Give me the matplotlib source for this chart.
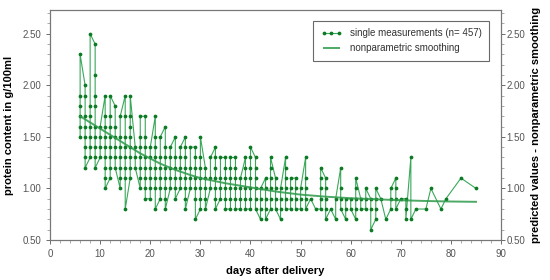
import matplotlib
matplotlib.use("Agg")
import matplotlib.pyplot as plt
from matplotlib.ticker import MultipleLocator

plt.rcParams['font.family'] = ['Liberation Sans', 'DejaVu Sans']

# measured protein values per day after delivery (g/100ml)
meas_days = [6, 7, 8, 9, 10, 11, 12, 13, 14, 15, 16, 17, 18, 19, 20, 21, 22, 23, 24, 25,
             26, 27, 28, 29, 30, 31, 32, 33, 34, 35, 36, 37, 38, 39, 40, 41, 42, 43, 44, 45,
             46, 47, 48, 49, 50, 51, 52, 53, 54, 55, 56, 57, 58, 59, 60, 61, 62, 63, 64, 65,
             66, 67, 68, 69, 70, 71, 72, 73, 75, 76, 78, 79, 82, 85]
meas_values = [
    [1.5, 1.6, 1.7, 1.8, 1.9, 2.3],
    [2.0, 1.9, 1.7, 1.6, 1.5, 1.4, 1.3, 1.2],
    [1.3, 1.4, 1.5, 1.6, 1.7, 1.8, 2.5],
    [2.4, 2.1, 1.9, 1.8, 1.6, 1.5, 1.4, 1.3, 1.2],
    [1.3, 1.4, 1.5, 1.6],
    [1.9, 1.7, 1.6, 1.5, 1.4, 1.3, 1.2, 1.1, 1.0],
    [1.1, 1.2, 1.3, 1.4, 1.5, 1.6, 1.7, 1.9],
    [1.8, 1.6, 1.5, 1.4, 1.3, 1.2],
    [1.0, 1.1, 1.2, 1.3, 1.4, 1.5, 1.7],
    [1.9, 1.7, 1.5, 1.4, 1.3, 1.2, 1.1, 0.8],
    [1.1, 1.2, 1.3, 1.4, 1.5, 1.6, 1.7, 1.9],
    [1.4, 1.3, 1.2],
    [1.0, 1.1, 1.2, 1.3, 1.4, 1.5, 1.7],
    [1.7, 1.5, 1.4, 1.3, 1.2, 1.1, 1.0, 0.9],
    [0.9, 1.0, 1.1, 1.2, 1.3, 1.4],
    [1.7, 1.5, 1.4, 1.3, 1.2, 1.1, 1.0, 0.8],
    [0.9, 1.0, 1.1, 1.2, 1.3, 1.5],
    [1.6, 1.4, 1.3, 1.2, 1.1, 1.0, 0.9, 0.8],
    [1.0, 1.1, 1.2, 1.3, 1.4],
    [1.5, 1.3, 1.2, 1.1, 1.0, 0.9],
    [1.0, 1.1, 1.2, 1.3, 1.4],
    [1.5, 1.4, 1.3, 1.2, 1.1, 1.0, 0.9, 0.8],
    [1.0, 1.1, 1.2, 1.4],
    [1.4, 1.3, 1.2, 1.1, 1.0, 0.9, 0.7],
    [0.8, 0.9, 1.0, 1.1, 1.2, 1.3, 1.5],
    [1.2, 1.1, 1.0, 0.9, 0.8],
    [1.0, 1.1, 1.3],
    [1.4, 1.3, 1.2, 1.1, 1.0, 0.9, 0.8],
    [0.9, 1.0, 1.1, 1.3],
    [1.3, 1.2, 1.1, 1.0, 0.9, 0.8],
    [0.8, 0.9, 1.0, 1.1, 1.2, 1.3],
    [1.3, 1.2, 1.1, 1.0, 0.9, 0.8],
    [0.8, 0.9, 1.0, 1.1],
    [1.3, 1.2, 1.1, 1.0, 0.9, 0.8],
    [0.8, 0.9, 1.0, 1.1, 1.2, 1.3, 1.4],
    [1.3, 1.2, 1.1, 1.0, 0.9, 0.8],
    [0.7, 0.8, 0.9, 1.0],
    [1.1, 1.0, 0.9, 0.8, 0.7],
    [0.8, 0.9, 1.0, 1.1, 1.2, 1.3],
    [1.1, 1.0, 0.9, 0.8],
    [0.7, 0.8, 0.9, 1.0],
    [1.3, 1.2, 1.1, 1.0, 0.9, 0.8],
    [0.8, 0.9, 1.0, 1.1],
    [1.1, 1.0, 0.9, 0.8],
    [0.8, 0.9, 1.0],
    [1.3, 1.1, 1.0, 0.9, 0.8],
    [0.9],
    [0.8],
    [0.8, 0.9, 1.0, 1.1, 1.2],
    [1.1, 1.0, 0.9, 0.8, 0.7],
    [0.8],
    [0.7, 0.9],
    [1.2, 1.0, 0.9, 0.8],
    [0.7, 0.8, 0.9],
    [0.9, 0.8],
    [0.7, 0.8, 0.9, 1.0, 1.1],
    [0.9, 0.8],
    [0.8, 0.9, 1.0],
    [0.9, 0.8, 0.6],
    [0.7, 0.8, 0.9, 1.0],
    [0.9],
    [0.7],
    [0.8, 0.9, 1.0],
    [1.1, 1.0, 0.9, 0.8],
    [0.9],
    [0.9, 0.8, 0.7],
    [1.3, 0.7],
    [0.8],
    [0.8],
    [1.0],
    [0.8],
    [0.9],
    [1.1],
    [1.0],
]

# nonparametric smoothing curve
smooth_days = [6, 8, 10, 12, 14, 16, 18, 20, 22, 25, 28, 30, 35, 40, 45, 50, 55, 60, 65, 70, 75, 80, 85]
smooth_values = [1.70, 1.64, 1.58, 1.52, 1.46, 1.40, 1.34, 1.29, 1.24, 1.18, 1.13, 1.10, 1.05, 1.01,
                 0.97, 0.94, 0.92, 0.905, 0.895, 0.885, 0.878, 0.873, 0.87]

x_ticks = [0, 10, 20, 30, 40, 50, 60, 70, 80, 90]
y_ticks = [0.5, 1.0, 1.5, 2.0, 2.5]

xs, ys = [], []
for d, vals in zip(meas_days, meas_values):
    for v in vals:
        xs.append(d)
        ys.append(v)

fig = plt.figure(figsize=(5.5, 2.8), dpi=100)
ax = fig.add_axes([0.091, 0.143, 0.82, 0.821])

line_meas, = ax.plot(xs, ys, color='#3aa85a', lw=0.8, marker='o', ms=1.7,
                     mfc='#0d7a25', mec='#0d7a25', zorder=3,
                     label='single measurements (n= 457)')
line_s, = ax.plot(smooth_days, smooth_values, color='#2e9a4a', lw=1.4, zorder=4, alpha=0.85,
                  label='nonparametric smoothing')

ax.set_xlim(0, 90)
ax.set_ylim(0.5, 2.73)
ax.set_xticks(x_ticks)
ax.set_yticks(y_ticks)
ax.set_yticklabels([f'{v:.2f}' for v in y_ticks])
ax.xaxis.set_minor_locator(MultipleLocator(2))
ax.yaxis.set_minor_locator(MultipleLocator(0.1))

grey = '#555555'
for s in ax.spines.values():
    s.set_color('#777777')
    s.set_linewidth(0.8)
ax.tick_params(axis='both', which='major', labelsize=7, colors=grey, length=3, width=0.6)
ax.tick_params(axis='both', which='minor', length=2, width=0.5, colors='#888888')

ax.set_xlabel('days after delivery', fontsize=8, fontweight='bold', labelpad=5)
ax.set_ylabel('protein content in g/100ml', fontsize=8, fontweight='bold', labelpad=6)

ax2 = ax.twinx()
ax2.set_ylim(ax.get_ylim())
ax2.set_yticks(y_ticks)
ax2.set_yticklabels([f'{v:.2f}' for v in y_ticks])
ax2.yaxis.set_minor_locator(MultipleLocator(0.1))
ax2.tick_params(axis='y', which='major', labelsize=7, colors=grey, length=3, width=0.6, pad=1)
ax2.tick_params(axis='y', which='minor', length=2, width=0.5, colors='#888888')
ax2.set_ylabel('predicted values - nonparametric smoothing', fontsize=8, fontweight='bold', labelpad=4)
for s in ax2.spines.values():
    s.set_color('#777777')
    s.set_linewidth(0.8)

leg = ax.legend(handles=[line_meas, line_s], loc='upper right', fontsize=7,
                frameon=True, fancybox=False, edgecolor='#444444',
                bbox_to_anchor=(0.985, 0.975), borderpad=0.8, handlelength=2.2,
                labelspacing=0.5, numpoints=3)
leg.get_frame().set_linewidth(0.8)
for t in leg.get_texts():
    t.set_color('#333333')

fig.savefig('out.png', dpi=100)
